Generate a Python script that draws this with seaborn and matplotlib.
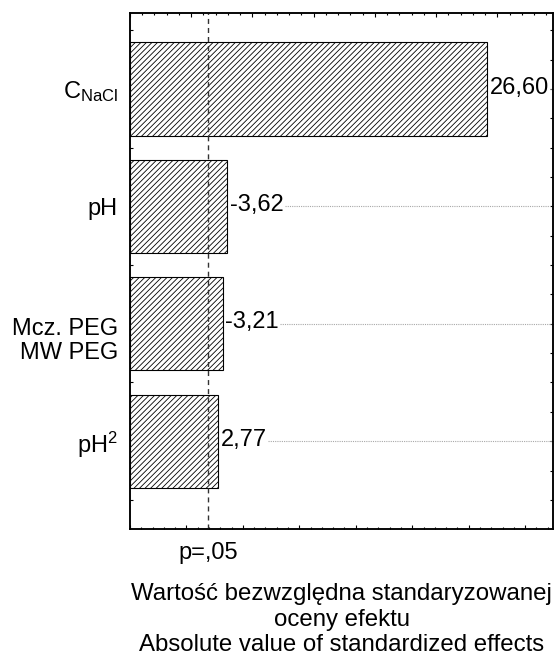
import numpy as np
import pandas as pd
import matplotlib
matplotlib.use("Agg")
import matplotlib.pyplot as plt
import matplotlib.transforms as mtransforms
from matplotlib.ticker import MultipleLocator, NullFormatter
import seaborn as sns

# ---- data ----
factors = ["C$_{NaCl}$", "pH", "Mcz. PEG\nMW PEG", "pH$^{2}$"]
effects = [26.60, -3.62, -3.21, 2.77]
effect_labels = ["26,60", "-3,62", "-3,21", "2,77"]
p_crit = 1.94
p_label = "p=,05"
xlabel_lines = ["Wartość bezwzględna standaryzowanej",
                "oceny efektu",
                "Absolute value of standardized effects"]

sns.set_style("ticks")
plt.rcParams["font.family"] = ["Liberation Sans", "DejaVu Sans"]
plt.rcParams["mathtext.fontset"] = "custom"
plt.rcParams["mathtext.rm"] = "Liberation Sans"
plt.rcParams["mathtext.it"] = "Liberation Sans:italic"
plt.rcParams["mathtext.default"] = "regular"
plt.rcParams["hatch.linewidth"] = 0.6
for k in ["text.color", "axes.labelcolor", "xtick.color", "ytick.color",
          "axes.edgecolor"]:
    plt.rcParams[k] = "black"

FS = 17.0
W, H = 555, 661
fig = plt.figure(figsize=(W / 100, H / 100), dpi=100)
ax = fig.add_axes([130 / W, 1 - 529 / H, 423 / W, 516.3 / H])

df = pd.DataFrame({"factor": factors, "abs_effect": np.abs(effects)})
X0 = -5.0
sns.barplot(data=df, x="abs_effect", y="factor", orient="h", color="white",
            edgecolor="black", linewidth=0.8, hatch="//////", width=0.795,
            saturation=1, ax=ax)
# bars start at the left edge of the axis (Statistica style)
for p in ax.patches:
    right = p.get_x() + p.get_width()
    p.set_x(X0)
    p.set_width(right - X0)
    p.set_facecolor("white")

ax.set_xlim(X0, 32.47)
ax.set_ylim(3.748, -0.65)

for s in ax.spines.values():
    s.set_visible(True)
    s.set_linewidth(1.1)
    s.set_color("black")

# x ticks (bottom)
ax.xaxis.set_major_locator(MultipleLocator(5))
ax.xaxis.set_minor_locator(MultipleLocator(1))
ax.xaxis.set_major_formatter(NullFormatter())
ax.tick_params(axis="x", which="major", direction="in", length=3.2, width=0.8,
               bottom=True, top=False, labelbottom=False)
ax.tick_params(axis="x", which="minor", direction="in", length=1.6, width=0.8,
               bottom=True, top=False)
ax.set_xlabel("")
ax.set_ylabel("")

# y ticks; category names drawn as right-aligned text beside the axis
ax.set_yticks(range(len(factors)))
ax.set_yticklabels([""] * len(factors))
ax.set_yticks(np.arange(-0.5, 3.51, 0.25), minor=True)
ax.tick_params(axis="y", which="both", direction="in", length=2.0, width=0.8,
               left=True, right=True)
yblend = mtransforms.blended_transform_factory(ax.transAxes, ax.transData)
for i, name in enumerate(factors):
    for j, line in enumerate(name.split("\n")):
        ax.annotate(line, (0, i), xycoords=yblend,
                    xytext=(-8.8, -2.0 - 17.5 * j if "\n" in name else 0),
                    textcoords="offset points", ha="right",
                    va="center_baseline", fontsize=FS, annotation_clip=False)

# top axis with its own scale
axt = ax.twiny()
axt.set_xlim(0, 6.91)
axt.xaxis.set_major_locator(MultipleLocator(1))
axt.xaxis.set_minor_locator(MultipleLocator(0.2))
axt.xaxis.set_major_formatter(NullFormatter())
axt.tick_params(axis="x", which="major", direction="in", length=3.2, width=0.8,
                top=True, bottom=False, labeltop=False)
axt.tick_params(axis="x", which="minor", direction="in", length=1.6, width=0.8,
                top=True, bottom=False)
for s in axt.spines.values():
    s.set_linewidth(1.1)
    s.set_color("black")

# critical value line
ax.axvline(p_crit, color="#333333", lw=1.0, dashes=(3.6, 2.9), zorder=3)
blend = mtransforms.blended_transform_factory(ax.transData, ax.transAxes)
ax.text(p_crit, -0.0465, p_label, transform=blend, ha="center", va="center",
        fontsize=FS)

# value labels + dotted leaders
texts = []
for i, (v, lab) in enumerate(zip(np.abs(effects), effect_labels)):
    t = ax.annotate(lab, (v, i), xytext=(2.0, 1.0), textcoords="offset points",
                    ha="left", va="center", fontsize=FS, zorder=4)
    texts.append(t)

fig.canvas.draw()
inv = ax.transData.inverted()
for i, t in enumerate(texts):
    bb = t.get_window_extent()
    x_start = inv.transform((bb.x1 + 1, 0))[0]
    ax.plot([x_start, 32.47], [i, i], color="#a8a8a8", lw=0.8,
            linestyle=(0, (1, 1)), zorder=2, clip_on=True)

# x axis title
for yy, line in zip([594, 620, 645], xlabel_lines):
    fig.text(341.5 / W, 1 - yy / H, line, ha="center", va="center",
             fontsize=17.3, transform=fig.transFigure)

fig.savefig("out.png", dpi=100)
